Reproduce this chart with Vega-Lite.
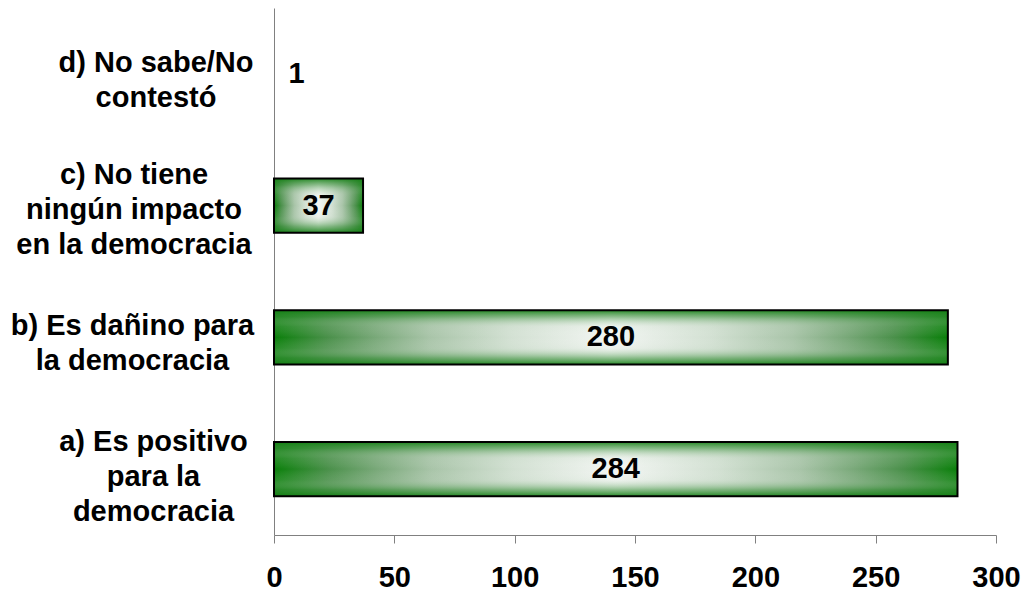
{
  "$schema": "https://vega.github.io/schema/vega-lite/v6.json",
  "autosize": {"type": "none"},
  "width": 722,
  "height": 527,
  "padding": {"left": 274, "top": 8, "right": 29, "bottom": 58},
  "background": "white",
  "config": {
    "view": {"stroke": null},
    "font": "Liberation Sans"
  },
  "data": {
    "values": [
      {"cat": "a) Es positivo|para la|democracia", "value": 284},
      {"cat": "b) Es dañino para|la democracia", "value": 280},
      {"cat": "c) No tiene|ningún impacto|en la democracia", "value": 37},
      {"cat": "d) No sabe/No|contestó", "value": 1}
    ]
  },
  "encoding": {
    "y": {
      "field": "cat",
      "type": "nominal",
      "sort": "descending",
      "scale": {"paddingInner": 0.59, "paddingOuter": 0.295},
      "axis": {
        "title": null,
        "ticks": false,
        "domainColor": "#808080",
        "domainWidth": 1,
        "labelExpr": "split(datum.label, '|')",
        "labelFont": "Liberation Sans",
        "labelFontSize": 29,
        "labelFontWeight": "bold",
        "labelColor": "black",
        "labelAlign": "center",
        "labelBaseline": "middle",
        "labelLineHeight": 35,
        "labelOffset": {"expr": "indexof(datum.value, 'a)') == 0 ? -27 : indexof(datum.value, 'c)') == 0 ? -31 : -11"},
        "labelLimit": 400,
        "labelPadding": {"expr": "indexof(datum.value, 'a)') == 0 ? 121 : indexof(datum.value, 'b)') == 0 ? 142 : indexof(datum.value, 'c)') == 0 ? 140.5 : 118.5"}
      }
    }
  },
  "layer": [
    {
      "mark": {
        "type": "bar",
        "color": {
          "gradient": "linear",
          "x1": 0, "y1": 0, "x2": 1, "y2": 0,
          "stops": [
            {"offset": 0, "color": "#0a7f0a"},
            {"offset": 0.08, "color": "#4a904a"},
            {"offset": 0.15, "color": "#78a878"},
            {"offset": 0.23, "color": "#a8c4a8"},
            {"offset": 0.35, "color": "#d2e0d2"},
            {"offset": 0.5, "color": "#f3f6f3"},
            {"offset": 0.65, "color": "#d2e0d2"},
            {"offset": 0.77, "color": "#a8c4a8"},
            {"offset": 0.85, "color": "#78a878"},
            {"offset": 0.92, "color": "#4a904a"},
            {"offset": 1, "color": "#0a7f0a"}
          ]
        }
      },
      "encoding": {
        "x": {
          "field": "value",
          "type": "quantitative",
          "scale": {"domain": [0, 300], "nice": false},
          "axis": {
            "title": null,
            "values": [0, 50, 100, 150, 200, 250, 300],
            "grid": false,
            "domainColor": "#808080",
            "tickColor": "#808080",
            "tickSize": 8,
            "labelFont": "Liberation Sans",
            "labelFontSize": 29,
            "labelFontWeight": "bold",
            "labelColor": "black",
            "labelPadding": 20,
            "labelFlush": false
          }
        },
        "opacity": {"condition": {"test": "datum.value < 2", "value": 0}, "value": 1}
      }
    },
    {
      "mark": {
        "type": "bar",
        "color": {
          "gradient": "linear",
          "x1": 0, "y1": 0, "x2": 0, "y2": 1,
          "stops": [
            {"offset": 0, "color": "rgba(20,128,20,0.9)"},
            {"offset": 0.12, "color": "rgba(60,145,60,0.55)"},
            {"offset": 0.3, "color": "rgba(200,220,200,0.15)"},
            {"offset": 0.5, "color": "rgba(255,255,255,0)"},
            {"offset": 0.7, "color": "rgba(200,220,200,0.15)"},
            {"offset": 0.88, "color": "rgba(60,145,60,0.55)"},
            {"offset": 1, "color": "rgba(20,128,20,0.9)"}
          ]
        }
      },
      "encoding": {
        "x": {"field": "value", "type": "quantitative"},
        "opacity": {"condition": {"test": "datum.value < 2", "value": 0}, "value": 1}
      }
    },
    {
      "mark": {"type": "bar", "fill": null, "stroke": "black", "strokeWidth": 2},
      "encoding": {
        "x": {"field": "value", "type": "quantitative"},
        "opacity": {"condition": {"test": "datum.value < 2", "value": 0}, "value": 1}
      }
    },
    {
      "transform": [{"calculate": "max(datum.value / 2, 9.4)", "as": "labelx"}],
      "mark": {
        "type": "text",
        "font": "Liberation Sans",
        "fontSize": 29,
        "fontWeight": "bold",
        "color": "black",
        "align": "center",
        "baseline": "middle"
      },
      "encoding": {
        "x": {"field": "labelx", "type": "quantitative"},
        "text": {"field": "value", "type": "quantitative"}
      }
    }
  ]
}
